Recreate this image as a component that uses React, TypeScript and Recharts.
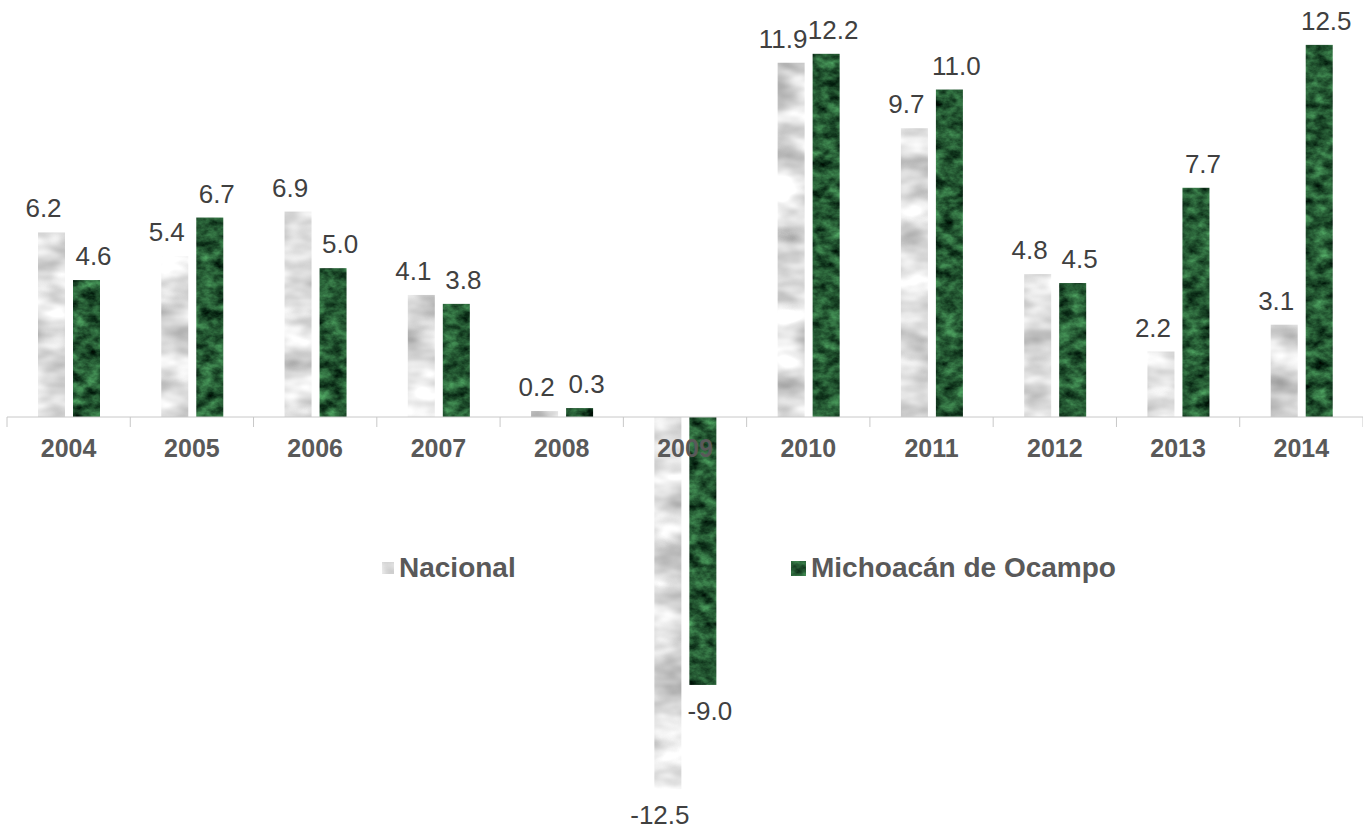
import { BarChart, Bar, XAxis, YAxis, ReferenceLine, LabelList, Legend } from 'recharts';

const years = ['2004', '2005', '2006', '2007', '2008', '2009', '2010', '2011', '2012', '2013', '2014'];
const nacional = [6.2, 5.4, 6.9, 4.1, 0.2, -12.5, 11.9, 9.7, 4.8, 2.2, 3.1];
const michoacan = [4.6, 6.7, 5.0, 3.8, 0.3, -9.0, 12.2, 11.0, 4.5, 7.7, 12.5];
const seriesNames = ['Nacional', 'Michoacán de Ocampo'];

const Y_MIN = -13;
const Y_MAX = 13;

const W = 1363;
const H = 829;
const MARGIN = { top: 30, right: 0, bottom: 0, left: 7 };
const X_AXIS_H = 25;
const FONT = '"Liberation Sans", Arial, sans-serif';

const data = years.map((year, i) => ({
  year,
  nacional: nacional[i],
  michoacan: michoacan[i],
}));

// pixel row of the zero line, worked out from the plot box and the domain
const plotTop = MARGIN.top;
const plotBottom = H - MARGIN.bottom - X_AXIS_H;
const zeroY = plotTop + ((plotBottom - plotTop) * Y_MAX) / (Y_MAX - Y_MIN);
const bandW = (W - MARGIN.left - MARGIN.right) / years.length;

function YearTick(props: any) {
  const { x, payload, index } = props;
  const last = index === years.length - 1;
  return (
    <g>
      <line x1={x - bandW / 2} x2={x - bandW / 2} y1={zeroY} y2={zeroY + 10} stroke="#c8c8c8" />
      {last && <line x1={x + bandW / 2} x2={x + bandW / 2} y1={zeroY} y2={zeroY + 10} stroke="#c8c8c8" />}
      <text x={x} y={zeroY + 40} textAnchor="middle" fontSize={25} fontWeight="bold" fill="#595959" fontFamily={FONT}>
        {payload.value}
      </text>
    </g>
  );
}

function texturedBar(filterId: string) {
  return (props: any) => {
    const { x, y, width, height } = props;
    const top = Math.min(y, y + height);
    const h = Math.abs(height);
    if (!h) return <g />;
    return <rect x={x} y={top} width={width} height={h} fill="#888" filter={`url(#${filterId})`} />;
  };
}

function valueLabel(dx: number) {
  return (props: any) => {
    const box = props.viewBox && props.viewBox.width !== undefined ? props.viewBox : props;
    const { x, y, width, height } = box;
    const v = Number(props.value);
    const top = Math.min(y, y + height);
    const bottom = Math.max(y, y + height);
    const ty = v >= 0 ? top - 15 : bottom + 35;
    return (
      <text x={x + width / 2 + dx} y={ty} textAnchor="middle" fontSize={26} fill="#404040" fontFamily={FONT}>
        {v.toFixed(1)}
      </text>
    );
  };
}

function Swatch({ filterId, size }: { filterId: string; size: number }) {
  return (
    <svg width={size} height={size} style={{ display: 'block' }}>
      <rect x={0} y={0} width={size} height={size} fill="#888" filter={`url(#${filterId})`} />
    </svg>
  );
}

function renderLegend() {
  const items = [
    { name: seriesNames[0], filter: 'marbleGray', left: 382, size: 12 },
    { name: seriesNames[1], filter: 'marbleGreen', left: 791, size: 15 },
  ];
  return (
    <div style={{ position: 'relative', width: W, height: 30 }}>
      {items.map((it) => (
        <div
          key={it.name}
          style={{
            position: 'absolute',
            left: it.left,
            top: 0,
            display: 'flex',
            alignItems: 'center',
            height: 28,
            gap: 5,
          }}
        >
          <Swatch filterId={it.filter} size={it.size} />
          <span style={{ fontFamily: FONT, fontSize: 28, fontWeight: 'bold', color: '#595959', lineHeight: '28px' }}>
            {it.name}
          </span>
        </div>
      ))}
    </div>
  );
}

export default function App() {
  return (
    <div style={{ width: W, height: H, background: '#fff' }}>
      <style>{'body{margin:0;background:#fff}'}</style>
      <BarChart width={W} height={H} data={data} margin={MARGIN} barSize={27} barGap={8}>
        <defs>
          <filter id="marbleGreen" x="0" y="0" width="1" height="1" colorInterpolationFilters="sRGB">
            <feTurbulence type="fractalNoise" baseFrequency="0.07 0.1" numOctaves={4} seed={7} result="n" />
            <feColorMatrix
              in="n"
              type="matrix"
              values="0.45 0 0 0 -0.08  0.8 0 0 0 -0.05  0.5 0 0 0 -0.05  0 0 0 0 1"
              result="c"
            />
            <feComposite in="c" in2="SourceGraphic" operator="in" />
          </filter>
          <filter id="marbleGray" x="0" y="0" width="1" height="1" colorInterpolationFilters="sRGB">
            <feTurbulence type="fractalNoise" baseFrequency="0.02 0.04" numOctaves={3} seed={3} result="n" />
            <feColorMatrix
              in="n"
              type="matrix"
              values="-0.6 0 0 0 1.17  -0.6 0 0 0 1.17  -0.6 0 0 0 1.17  0 0 0 0 1"
              result="c"
            />
            <feComposite in="c" in2="SourceGraphic" operator="in" />
          </filter>
        </defs>
        <XAxis dataKey="year" height={X_AXIS_H} axisLine={false} tickLine={false} tick={<YearTick />} interval={0} />
        <YAxis hide domain={[Y_MIN, Y_MAX]} />
        <ReferenceLine y={0} stroke="#c8c8c8" strokeWidth={1} />
        <Legend
          content={renderLegend}
          layout="horizontal"
          verticalAlign="middle"
          align="center"
          wrapperStyle={{ top: 554, left: 0, width: W, height: 30 }}
        />
        <Bar dataKey="nacional" name={seriesNames[0]} shape={texturedBar('marbleGray')} isAnimationActive={false}>
          <LabelList dataKey="nacional" content={valueLabel(-8)} />
        </Bar>
        <Bar dataKey="michoacan" name={seriesNames[1]} shape={texturedBar('marbleGreen')} isAnimationActive={false}>
          <LabelList dataKey="michoacan" content={valueLabel(7)} />
        </Bar>
      </BarChart>
    </div>
  );
}
